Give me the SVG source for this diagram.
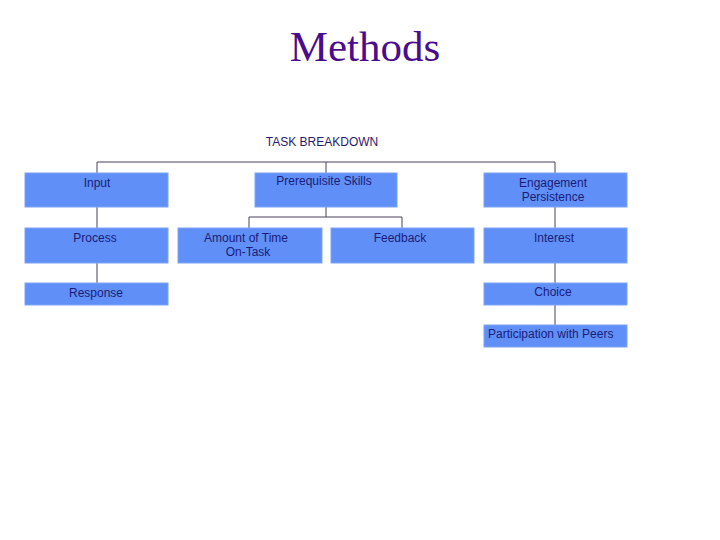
<svg xmlns="http://www.w3.org/2000/svg" width="720" height="540" viewBox="0 0 720 540">
<style>
.box{fill:#5F8FF7;stroke:#7FA4F5;stroke-width:1}
.t{font-family:"Liberation Sans",Arial,sans-serif;font-size:12px;fill:#1C1C78;text-anchor:middle}
.c{fill:none;stroke:#4A4258;stroke-width:1}
</style>
<rect width="720" height="540" fill="#FFFFFF"/>
<text x="365" y="61" font-family="Liberation Serif,'Times New Roman',serif" font-size="43" fill="#4B0C8C" text-anchor="middle">Methods</text>
<text x="322" y="146" class="t" style="fill:#2A1A6E">TASK BREAKDOWN</text>
<g id="connectors">
<path class="c" d="M97,173 V162 H555 V173 M326,162 V173"/>
<path class="c" d="M326,207 V217 M249,228 V217 H402 V228"/>
<path class="c" d="M97,207 V228 M97,263 V283"/>
<path class="c" d="M555,207 V228 M555,263 V283 M555,305 V325"/>
</g>
<g id="input"><rect class="box" x="25" y="173" width="143" height="34"/><text class="t" x="97" y="187">Input</text></g>
<g id="prereq"><rect class="box" x="255" y="173" width="142" height="34"/><text class="t" x="324" y="185">Prerequisite Skills</text></g>
<g id="engagement"><rect class="box" x="484" y="173" width="143" height="34"/><text class="t" x="553" y="187">Engagement</text><text class="t" x="553" y="201">Persistence</text></g>
<g id="process"><rect class="box" x="25" y="228" width="143" height="35"/><text class="t" x="95" y="242">Process</text></g>
<g id="amount"><rect class="box" x="178" y="228" width="144" height="35"/><text class="t" x="246" y="242">Amount of Time</text><text class="t" x="248" y="256">On-Task</text></g>
<g id="feedback"><rect class="box" x="331" y="228" width="143" height="35"/><text class="t" x="400" y="242">Feedback</text></g>
<g id="interest"><rect class="box" x="484" y="228" width="143" height="35"/><text class="t" x="554" y="242">Interest</text></g>
<g id="response"><rect class="box" x="25" y="283" width="143" height="22"/><text class="t" x="96" y="297">Response</text></g>
<g id="choice"><rect class="box" x="484" y="283" width="143" height="22"/><text class="t" x="553" y="296">Choice</text></g>
<g id="participation"><rect class="box" x="484" y="325" width="143" height="22"/><text class="t" x="488" y="338" style="text-anchor:start">Participation with Peers</text></g>
</svg>
